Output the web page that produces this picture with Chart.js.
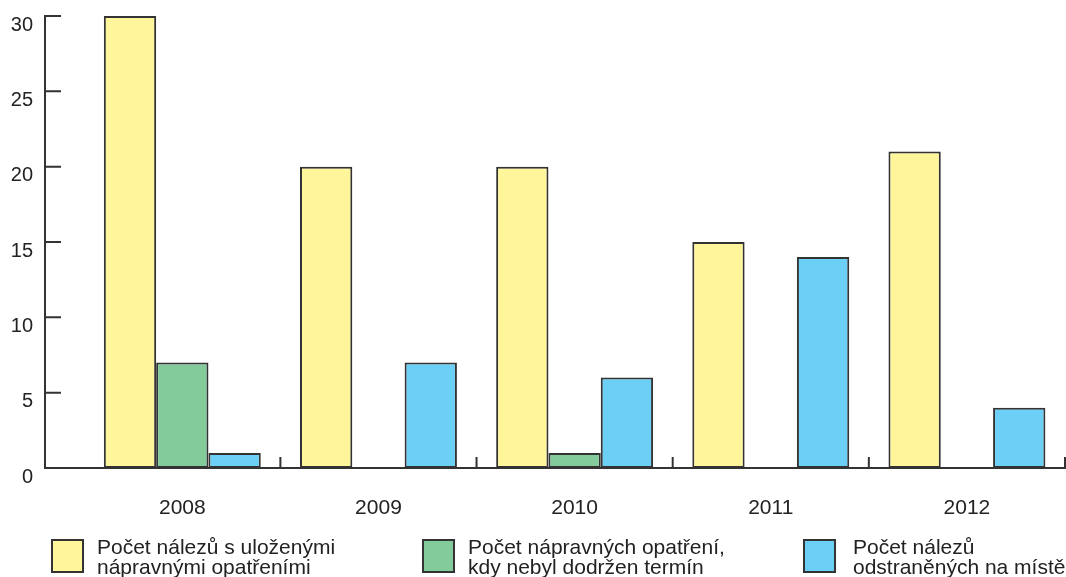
<!DOCTYPE html>
<html>
<head>
<meta charset="utf-8">
<script src="https://cdn.jsdelivr.net/npm/chart.js@4"></script>
<style>
  body { margin: 0; background: #fff; }
  #wrap { position: relative; width: 1066px; height: 577px; overflow: hidden; }
  #wrap canvas { position: absolute; left: 0; top: 0; }
  .leg { position: absolute; top: 537px; font-family: "Liberation Sans", Arial, sans-serif;
         font-size: 21px; line-height: 20px; color: #222; white-space: nowrap; }
  .leg i { position: absolute; left: 0; top: 2px; width: 29px; height: 30px;
           border: 2px solid #333; }
  .leg span { position: absolute; top: 0; }
</style>
</head>
<body>
<div id="wrap">
  <canvas id="chart" width="1066" height="577"></canvas>
  <div id="legend"></div>
</div>
<script>
// data
const years = ['2008', '2009', '2010', '2011', '2012'];
const uloženáOpatření = [30, 20, 20, 15, 21];
const nedodrženýTermín = [7, 0, 1, 0, 0];
const odstraněnoNaMístě = [1, 7, 6, 14, 4];
const yTicks = [0, 5, 10, 15, 20, 25, 30];
const seriesNames = [
  ['Počet nálezů s uloženými', 'nápravnými opatřeními'],
  ['Počet nápravných opatření,', 'kdy nebyl dodržen termín'],
  ['Počet nálezů', 'odstraněných na místě'],
];
const colors = ['#fff59b', '#84cb9c', '#6ccff6'];

// x jako číselná osa, roky leží uprostřed intervalů
function toPoints(values) {
  return values.map((v, i) => ({ x: i + 0.5, y: v }));
}

// vlastní značky na osách (dovnitř grafu)
const axisMarks = {
  id: 'axisMarks',
  afterDatasetsDraw(chart) {
    const ctx = chart.ctx;
    const xs = chart.scales.x;
    const ys = chart.scales.y;
    const base = ys.getPixelForValue(0);
    ctx.save();
    ctx.strokeStyle = '#333';
    ctx.lineWidth = 2;
    ctx.beginPath();
    yTicks.forEach(t => {
      const py = ys.getPixelForValue(t);
      ctx.moveTo(xs.left, py);
      ctx.lineTo(xs.left + 16, py);
    });
    for (let i = 1; i <= years.length; i++) {
      const px = xs.getPixelForValue(i);
      ctx.moveTo(px, base);
      ctx.lineTo(px, base - 11);
    }
    ctx.stroke();
    ctx.restore();
  }
};

const datasets = [uloženáOpatření, nedodrženýTermín, odstraněnoNaMístě].map((vals, i) => ({
  label: seriesNames[i].join(' '),
  data: toPoints(vals),
  backgroundColor: colors[i],
  borderColor: '#333',
  borderWidth: 2,
  borderSkipped: false,
  categoryPercentage: 0.8,
  barPercentage: 1,
}));

const font = { family: '"Liberation Sans", Arial, sans-serif', size: 20 };

new Chart(document.getElementById('chart'), {
  type: 'bar',
  data: { datasets },
  plugins: [axisMarks],
  options: {
    responsive: false,
    animation: false,
    layout: { padding: { top: 16, right: 1, left: 0, bottom: 0 } },
    plugins: { legend: { display: false }, tooltip: { enabled: false } },
    scales: {
      x: {
        type: 'linear',
        min: -0.2,
        max: years.length,
        offset: false,
        bounds: 'data',
        grid: { display: false, offset: false },
        border: { display: true, color: '#333', width: 2 },
        afterBuildTicks: s => { s.ticks = years.map((y, i) => ({ value: i + 0.5 })); },
        afterFit: s => { s.height = 577 - 468; s.paddingLeft = 0; s.paddingRight = 0; },
        ticks: {
          callback: (v, i) => years[i],
          color: '#222',
          font: { family: font.family, size: 21 },
          padding: 20,
          maxRotation: 0,
        },
      },
      y: {
        min: 0,
        max: 30,
        grid: { display: false, drawTicks: false },
        border: { display: true, color: '#333', width: 2 },
        afterBuildTicks: s => { s.ticks = yTicks.map(v => ({ value: v })); },
        afterFit: s => { s.width = 45; s.paddingTop = 0; s.paddingBottom = 0; },
        ticks: { color: '#222', font, padding: 12, labelOffset: 9 },
      },
    },
  },
});

// legenda
const legend = document.getElementById('legend');
const legendX = [51, 422, 803];
seriesNames.forEach((lines, i) => {
  const d = document.createElement('div');
  d.className = 'leg';
  d.style.left = legendX[i] + 'px';
  d.innerHTML = '<i style="background:' + colors[i] + '"></i><span style="left:' +
    (i === 2 ? 50 : 46) + 'px">' + lines.join('<br>') + '</span>';
  legend.appendChild(d);
});
</script>
</body>
</html>
